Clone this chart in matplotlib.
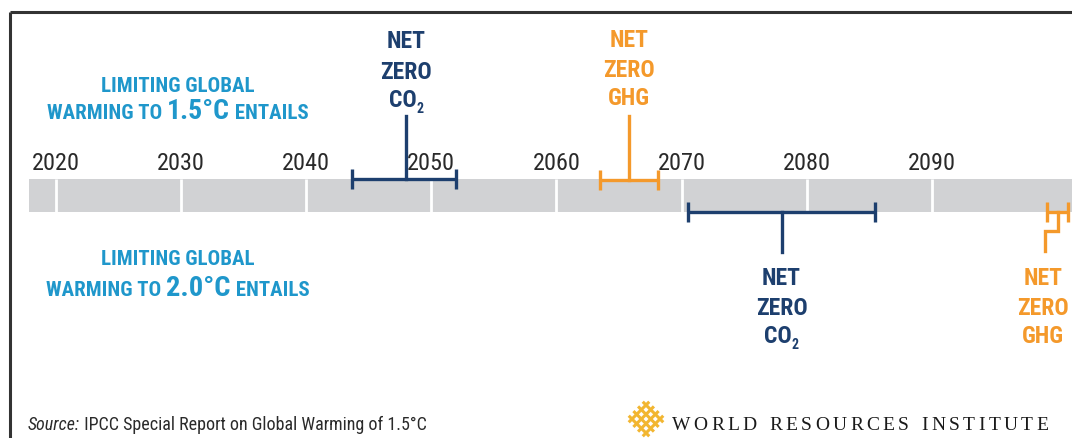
import matplotlib
matplotlib.use('Agg')
import matplotlib.pyplot as plt
from matplotlib import font_manager as fm
from matplotlib.patches import Rectangle
import numpy as np

# timeline decades
decades = [2020, 2030, 2040, 2050, 2060, 2070, 2080, 2090]
decade_labels = ['2020', '2030', '2040', '2050', '2060', '2070', '2080', '2090']

# net zero year ranges: (earliest, central, latest)
co2_15 = (2043.7, 2048, 2052)
ghg_15 = (2063.5, 2065.8, 2068.1)
co2_20 = (2070.5, 2078, 2085.5)
ghg_20 = (2099.2, 2100.1, 2100.9)

BLUE = '#1d3f6e'
ORANGE = '#f4992b'
LIGHT = '#1f97cb'
GREY = '#d1d2d4'
INK = '#2a2a2a'


def pick(names):
    for n in names:
        try:
            fm.findfont(n, fallback_to_default=False)
            return n
        except Exception:
            pass
    return 'DejaVu Sans'

NARROW = pick(['Liberation Sans Narrow', 'Roboto Condensed', 'Roboto'])
SERIF = pick(['Liberation Serif', 'DejaVu Serif'])

W, H = 1072, 439
fig = plt.figure(figsize=(W / 100, H / 100), dpi=100)
# years on x, pixel rows on y
ax = fig.add_axes([0, 0, 1, 1])
px_per_year = 12.51
ax.set_xlim(2020 - 56 / px_per_year, 2020 + (W - 56) / px_per_year)
ax.set_ylim(H, 0)
ax.axis('off')
# plain pixel overlay for free text
ov = fig.add_axes([0, 0, 1, 1], facecolor='none')
ov.set_xlim(0, W)
ov.set_ylim(H, 0)
ov.axis('off')

# frame
ov.plot([10, W], [13, 13], color='#333333', lw=2.2, solid_capstyle='butt')
ov.plot([10, 10], [13, H], color='#333333', lw=2.2, solid_capstyle='butt')

# grey bar with white decade separators
ax.add_patch(Rectangle((2020 - 27 / px_per_year, 180), 90, 33, color=GREY, lw=0))
ax.vlines(decades, 180, 213, color='white', lw=2)
for d, lab in zip(decades, decade_labels):
    ax.text(d, 170, lab, ha='center', va='baseline', fontsize=17.5, color=INK,
            family=NARROW)

renderer = fig.canvas.get_renderer()


def runs(pieces, x, y, color, ha='center', bold=True):
    objs = []
    for s, size, dy, style in pieces:
        t = ov.text(0, y + dy, s, fontsize=size, color=color, va='baseline',
                    ha='left', family=NARROW, style=style,
                    fontweight='bold' if bold else 'normal')
        objs.append(t)
    widths = [t.get_window_extent(renderer).width for t in objs]
    x0 = x - sum(widths) / 2 if ha == 'center' else x
    for t, w in zip(objs, widths):
        t.set_x(x0)
        x0 += w


def xpx(year):
    return ax.transData.transform((year, 0))[0]


def net_zero(rng, y_bar, stem_end, color, gas, rows, step=False):
    lo, mid, hi = rng
    ax.plot([lo, hi], [y_bar, y_bar], color=color, lw=2.4, solid_capstyle='butt')
    ax.vlines([lo, hi], y_bar - 10, y_bar + 10, color=color, lw=2.4)
    if step:
        ax.plot([mid, mid, lo - 0.15, lo - 0.15],
                [y_bar, y_bar + 19, y_bar + 19, stem_end],
                color=color, lw=2.4, solid_joinstyle='miter')
        cx = xpx(lo) - 4
    else:
        ax.plot([mid, mid], [y_bar, stem_end], color=color, lw=2.4)
        cx = xpx(mid)
    runs([('NET', 17, 0, 'normal')], cx, rows[0], color)
    runs([('ZERO', 17, 0, 'normal')], cx, rows[1], color)
    if gas == 'CO2':
        runs([('CO', 17, 0, 'normal'), ('2', 10, 6, 'normal')], cx, rows[2], color)
    else:
        runs([(gas, 17, 0, 'normal')], cx, rows[2], color)


net_zero(co2_15, 180, 117, BLUE, 'CO2', [48, 79, 107])
net_zero(ghg_15, 181, 117, ORANGE, 'GHG', [47, 77, 105])
net_zero(co2_20, 213, 253, BLUE, 'CO2', [285, 315, 343])
net_zero(ghg_20, 213, 252, ORANGE, 'GHG', [285, 315, 343], step=True)

# scenario headings
runs([('LIMITING GLOBAL', 15, 0, 'normal')], 178, 92, LIGHT)
runs([('WARMING TO ', 15, 0, 'normal'), ('1.5°C', 20, 0, 'normal'),
      (' ENTAILS', 15, 0, 'normal')], 178, 119, LIGHT)
runs([('LIMITING GLOBAL', 15, 0, 'normal')], 178, 265, LIGHT)
runs([('WARMING TO ', 15, 0, 'normal'), ('2.0°C', 20.5, 0, 'normal'),
      (' ENTAILS', 15, 0, 'normal')], 178, 296, LIGHT)

# source line
runs([('Source:', 13, 0, 'italic'),
      (' IPCC Special Report on Global Warming of 1.5°C', 13, 0, 'normal')],
     28, 430, INK, ha='left', bold=False)

# WRI logo: woven diamond
cx, cy, s = 646, 420, 6.6
c, sn = np.cos(np.pi / 4), np.sin(np.pi / 4)
for k in [-1.5, -0.5, 0.5, 1.5]:
    for a in (0, 1):
        u = np.array([k, k]) if a == 0 else np.array([-2.2, 2.2])
        v = np.array([-2.2, 2.2]) if a == 0 else np.array([k, k])
        xs = cx + s * (u * c - v * sn)
        ys = cy + s * (u * sn + v * c)
        ov.plot(xs, ys, color='#f2b631', lw=2.2, solid_capstyle='butt')

# WRI wordmark with letter spacing
word = 'WORLD RESOURCES INSTITUTE'
chars = [ov.text(0, 430, ch, fontsize=14, family=SERIF, color='#1a1a1a',
                 va='baseline', ha='left') for ch in word]
cw = [t.get_window_extent(renderer).width if ch != ' ' else 6 for t, ch in zip(chars, word)]
track = (376 - sum(cw)) / (len(word) - 1)
x0 = 672
for t, w in zip(chars, cw):
    t.set_x(x0)
    x0 += w + track

fig.savefig('out.png', dpi=100)
